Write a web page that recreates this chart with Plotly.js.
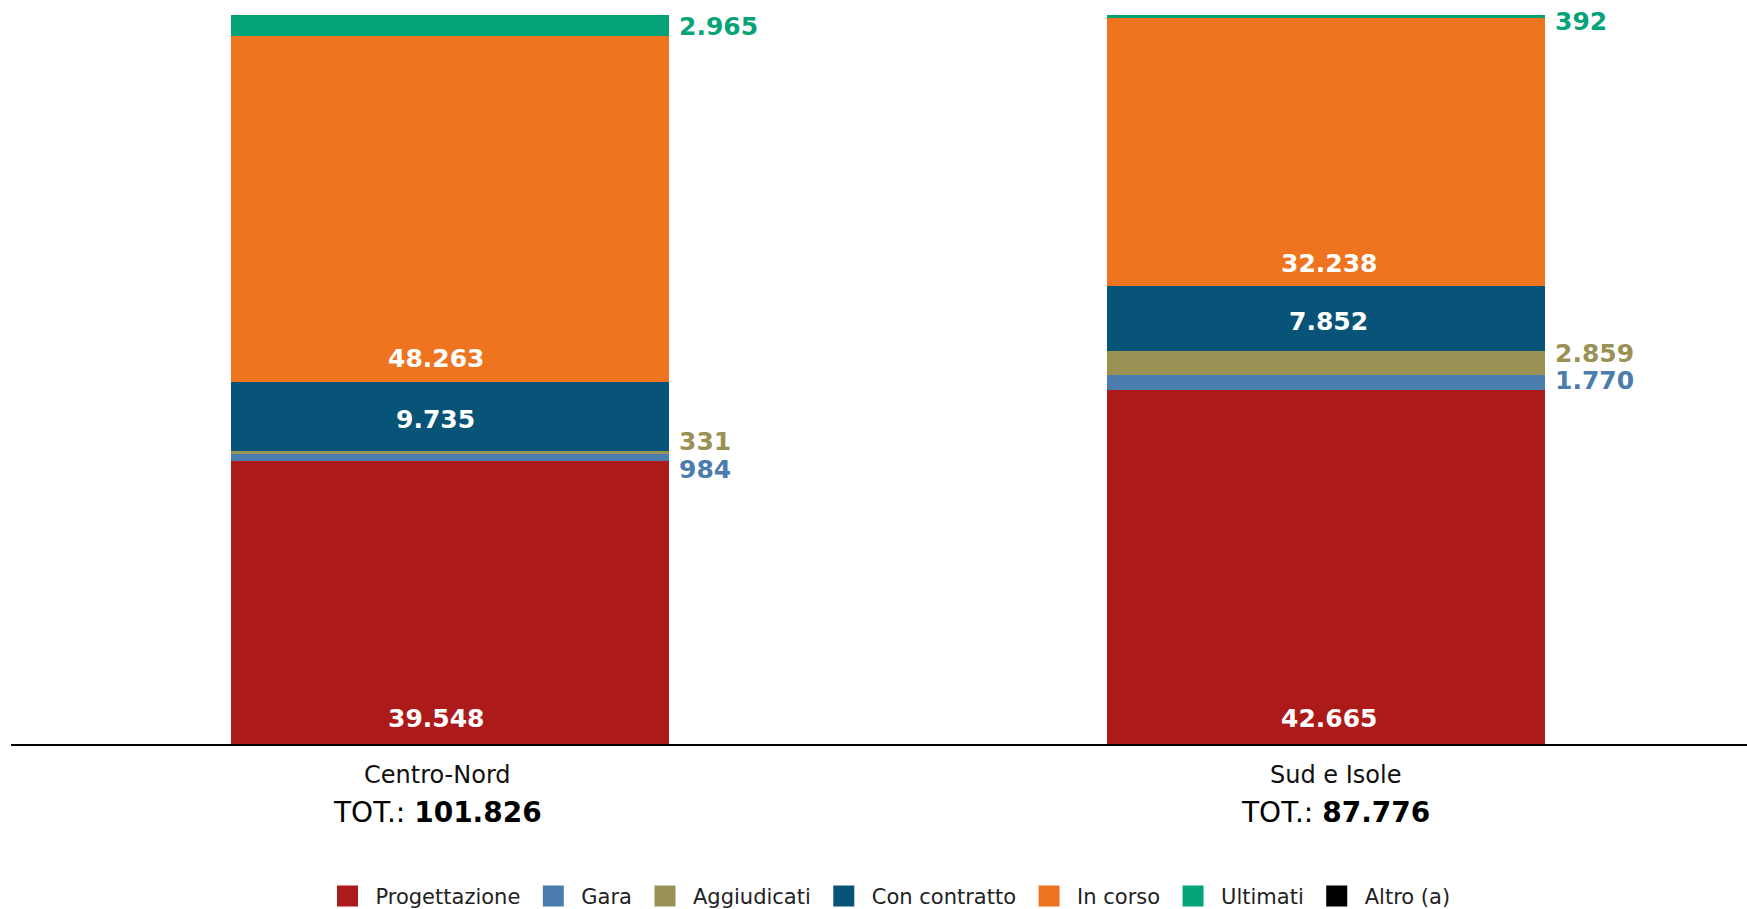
<!DOCTYPE html>
<html>
<head>
<meta charset="utf-8">
<script src="https://cdn.plot.ly/plotly-3.0.1.min.js"></script>
<style>
  html, body { margin: 0; padding: 0; background: #ffffff; }
  #chart { width: 1747px; height: 909px; }
</style>
</head>
<body>
<div id="chart"></div>
<script>
// ---------------- DATA ----------------
const categories = ['Centro-Nord', 'Sud e Isole'];
const totals = [101826, 87776];
const seriesNames = ['Progettazione', 'Gara', 'Aggiudicati', 'Con contratto', 'In corso', 'Ultimati', 'Altro (a)'];
const progettazione = [39548, 42665];
const gara = [984, 1770];
const aggiudicati = [331, 2859];
const conContratto = [9735, 7852];
const inCorso = [48263, 32238];
const ultimati = [2965, 392];
const altro = [0, 0];

// ---------------- STYLE ----------------
const seriesValues = [progettazione, gara, aggiudicati, conContratto, inCorso, ultimati, altro];
const colors = ['#AD1A1A', '#4A7CAE', '#9A9155', '#075478', '#EE741F', '#05A478', '#000000'];
// label placement per series: 'base' (inside, near segment bottom), 'mid' (inside, centered), 'out' (right of bar), null (none)
const labelMode = ['base', 'out', 'out', 'mid', 'base', 'out', null];
const baseShift = [26, 0, 0, -3, 23, 0, 0];
const outShift = [[0, 0], [-12, 2], [11, 10], [0, 0], [0, 0], [-1, -5], [0, 0]];
const innerXShift = [-14, 3];
const catXShift = [-12, 10];
const FONT = '"DejaVu Sans", "Noto Sans", sans-serif';
const VALUE_SIZE = 25;

function fmt(n) {
  return String(n).replace(/\B(?=(\d{3})+(?!\d))/g, '.');
}

const colSums = categories.map((_, i) => seriesValues.reduce((s, arr) => s + arr[i], 0));

const traces = seriesValues.map((vals, k) => ({
  type: 'bar',
  name: seriesNames[k],
  x: categories,
  y: vals,
  marker: { color: colors[k], line: { width: 0 } },
  showlegend: false,
  hoverinfo: 'skip'
}));

// legend proxies (larger square swatches)
seriesNames.forEach((nm, k) => {
  traces.push({
    type: 'scatter',
    mode: 'markers',
    name: nm,
    x: [null],
    y: [null],
    marker: { symbol: 'square', size: 24, color: colors[k], line: { width: 5, color: colors[k] } },
    showlegend: true,
    hoverinfo: 'skip'
  });
});

const annotations = [];
categories.forEach((cat, i) => {
  let cum = 0;
  seriesValues.forEach((vals, k) => {
    const v = vals[i];
    const p = v / colSums[i] * 100;
    const mode = labelMode[k];
    if (mode && v > 0) {
      if (mode === 'base') {
        annotations.push({
          x: i, y: cum, xref: 'x', yref: 'y', text: '<b>' + fmt(v) + '</b>',
          showarrow: false, xanchor: 'center', yanchor: 'middle',
          xshift: innerXShift[i], yshift: baseShift[k],
          font: { family: FONT, size: VALUE_SIZE, color: '#ffffff' }
        });
      } else if (mode === 'mid') {
        annotations.push({
          x: i, y: cum + p / 2, xref: 'x', yref: 'y', text: '<b>' + fmt(v) + '</b>',
          showarrow: false, xanchor: 'center', yanchor: 'middle',
          xshift: innerXShift[i], yshift: baseShift[k],
          font: { family: FONT, size: VALUE_SIZE, color: '#ffffff' }
        });
      } else if (mode === 'out') {
        annotations.push({
          x: i + 0.25, y: cum + p / 2, xref: 'x', yref: 'y', text: '<b>' + fmt(v) + '</b>',
          showarrow: false, xanchor: 'left', yanchor: 'middle', xshift: 8, yshift: outShift[k][i],
          font: { family: FONT, size: VALUE_SIZE, color: colors[k] }
        });
      }
    }
    cum += p;
  });
  // category labels
  annotations.push({
    x: i, y: 0, xref: 'x', yref: 'paper', text: cat,
    showarrow: false, xanchor: 'center', yanchor: 'middle', xshift: catXShift[i], yshift: -31,
    font: { family: FONT, size: 24, color: '#111111' }
  });
  annotations.push({
    x: i, y: 0, xref: 'x', yref: 'paper', text: 'TOT.: <b>' + fmt(totals[i]) + '</b>',
    showarrow: false, xanchor: 'center', yanchor: 'middle', xshift: catXShift[i], yshift: -68,
    font: { family: FONT, size: 28, color: '#000000' }
  });
});

const layout = {
  width: 1747,
  height: 909,
  margin: { l: 11, r: 0, t: 15, b: 165 },
  paper_bgcolor: '#ffffff',
  plot_bgcolor: '#ffffff',
  barmode: 'stack',
  barnorm: 'percent',
  bargap: 0.5,
  showlegend: true,
  legend: {
    orientation: 'h',
    xref: 'container', yref: 'container',
    x: 0.508, y: 0.014, xanchor: 'center', yanchor: 'middle',
    font: { family: FONT, size: 21, color: '#222222' },
    itemsizing: 'trace',
    itemwidth: 46,
    traceorder: 'normal'
  },
  xaxis: {
    type: 'category',
    range: [-0.501, 1.481],
    showline: true, linecolor: '#000000', linewidth: 2,
    showticklabels: false, ticks: '', showgrid: false, zeroline: false,
    fixedrange: true
  },
  yaxis: {
    range: [0, 100],
    showticklabels: false, ticks: '', showgrid: false, zeroline: false, showline: false,
    fixedrange: true
  },
  annotations: annotations,
  font: { family: FONT }
};

Plotly.newPlot('chart', traces, layout, { displayModeBar: false, responsive: false });
</script>
</body>
</html>
